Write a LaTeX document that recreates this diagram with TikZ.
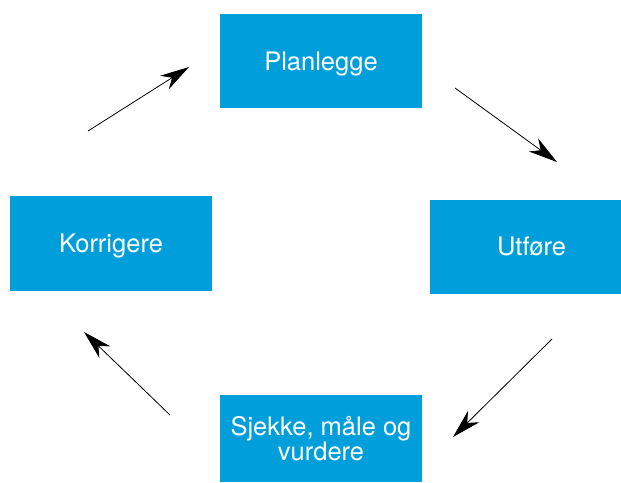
\documentclass[tikz,border=0pt]{standalone}
\usepackage{fontspec}
\setmainfont{TeX Gyre Heros}
\usetikzlibrary{arrows.meta}
\definecolor{boxblue}{RGB}{0,159,219}
\tikzset{flow/.style={line width=0.8pt, arrows={-Stealth[length=29pt,width=16pt,inset=9pt]}}}
\begin{document}
\begin{tikzpicture}[x=1pt,y=-1pt,
  stepbox/.style={fill=boxblue, draw=none, text=white, inner sep=0pt, align=center,
    font=\fontsize{25.5}{21}\selectfont},
  oneline/.style={text depth=0pt, text height=18pt}]
\useasboundingbox (0,0) rectangle (621,482);
\node[stepbox, oneline, minimum width=202pt, minimum height=94pt] (plan) at (321,61) {Planlegge};
\node[stepbox, oneline, minimum width=191pt, minimum height=94pt] (utf) at (525.5,246.5) {\hspace*{12pt}Utføre};
\node[stepbox, oneline, minimum width=202pt, minimum height=95pt] (korr) at (111,243.5) {Korrigere};
\node[stepbox, minimum width=202pt, minimum height=87pt] (sjek) at (321,438.5) {\raisebox{-3pt}{\parbox{200pt}{\centering Sjekke, måle og\\vurdere}}};
\coordinate (a1s) at (88,131); \coordinate (a1e) at (189,67);
\coordinate (a2s) at (455,88); \coordinate (a2e) at (557,162);
\coordinate (a3s) at (552,339); \coordinate (a3e) at (453,437);
\coordinate (a4s) at (170,415); \coordinate (a4e) at (84,332);
\draw[flow] (a1s) -- (a1e);
\draw[flow] (a2s) -- (a2e);
\draw[flow] (a3s) -- (a3e);
\draw[flow] (a4s) -- (a4e);
\end{tikzpicture}
\end{document}
